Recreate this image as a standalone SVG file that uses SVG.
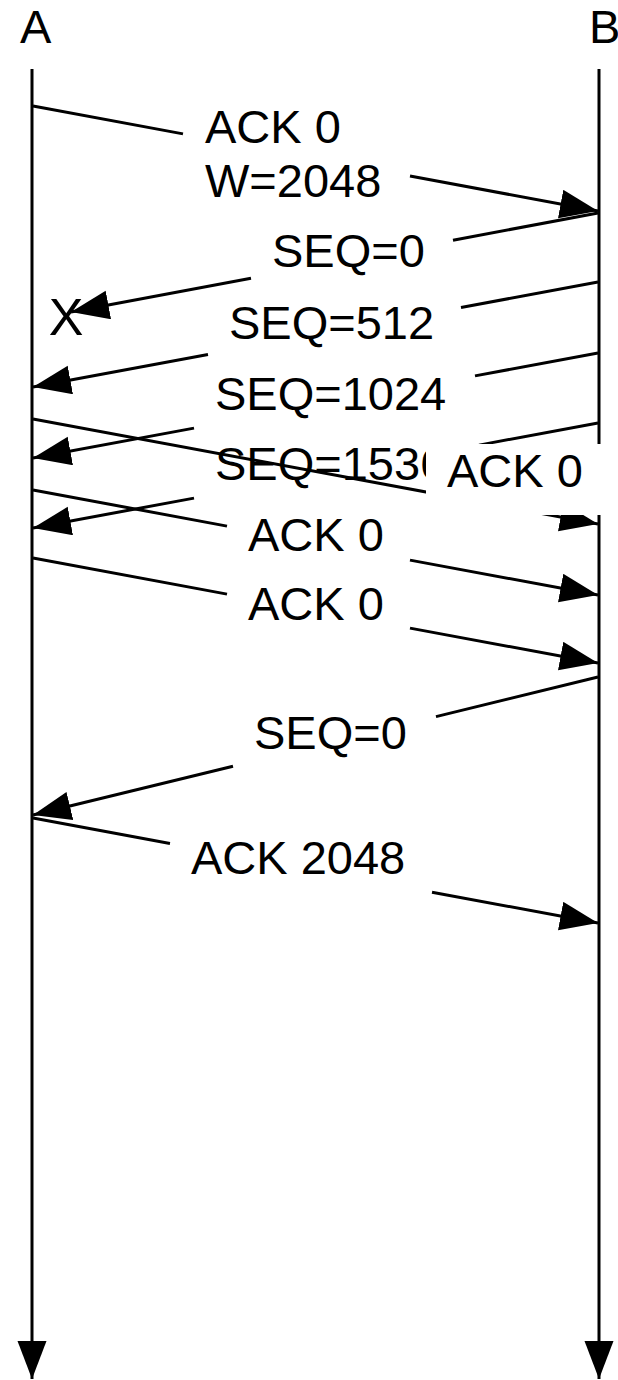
<svg xmlns="http://www.w3.org/2000/svg" width="618" height="1380" viewBox="0 0 618 1380">
<style>
  .ln { stroke: #000; stroke-width: 3; fill: none; }
  .lbl { font-family: "Liberation Sans", Arial, Helvetica, sans-serif; font-size: 47px; fill: #000; }
</style>
<defs>
  <marker id="ah" markerUnits="userSpaceOnUse" markerWidth="40" markerHeight="30" refX="38" refY="14.5" orient="auto">
    <path d="M0,0 L38,14.5 L0,29 Z" fill="#000"/>
  </marker>
</defs>
<rect width="618" height="1380" fill="#fff"/>
<g id="nodeA">
  <text class="lbl" x="20" y="43">A</text>
  <line class="ln" x1="32" y1="69" x2="32" y2="1379" marker-end="url(#ah)"/>
</g>
<g id="nodeB">
  <text class="lbl" x="589" y="43">B</text>
  <line class="ln" x1="599" y1="69" x2="599" y2="1379" marker-end="url(#ah)"/>
</g>
<g id="connectors">
  <path class="ln" d="M33,106 L183,133.9"/>
  <path class="ln" d="M410,176 L598,211" marker-end="url(#ah)"/>
  <path class="ln" d="M598,213 L453,240.2"/>
  <path class="ln" d="M251,278.2 L71,312" marker-end="url(#ah)"/>
  <path class="ln" d="M598,282 L461,307.5"/>
  <path class="ln" d="M208,354.5 L33,387" marker-end="url(#ah)"/>
  <path class="ln" d="M598,353 L475,375.9"/>
  <path class="ln" d="M194,428.1 L33,458" marker-end="url(#ah)"/>
  <path class="ln" d="M598,423 L479,445.1"/>
  <path class="ln" d="M194,498.1 L33,528" marker-end="url(#ah)"/>
  <path class="ln" d="M33,419 L598,524" marker-end="url(#ah)"/>
  <path class="ln" d="M33,490 L227,526.1"/>
  <path class="ln" d="M410,560.1 L598,595" marker-end="url(#ah)"/>
  <path class="ln" d="M33,558 L227,594.1"/>
  <path class="ln" d="M410,628.1 L598,663" marker-end="url(#ah)"/>
  <path class="ln" d="M598,677 L436,716.6"/>
  <path class="ln" d="M233,766.2 L33,815" marker-end="url(#ah)"/>
  <path class="ln" d="M33,818 L170,843.5"/>
  <path class="ln" d="M432,892.2 L598,923" marker-end="url(#ah)"/>
</g>
<g id="labels">
  <text class="lbl" x="205" y="143">ACK 0</text>
  <text class="lbl" x="205" y="197">W=2048</text>
  <text class="lbl" x="272" y="267">SEQ=0</text>
  <text class="lbl" x="66" y="335" text-anchor="middle" style="font-size:52px">X</text>
  <text class="lbl" x="229" y="339">SEQ=512</text>
  <text class="lbl" x="215" y="410">SEQ=1024</text>
  <text class="lbl" x="215" y="480">SEQ=1536</text>
  <g id="ackLabelBox">
    <rect x="426" y="444" width="178" height="71" fill="#fff"/>
    <text class="lbl" x="447" y="487">ACK 0</text>
  </g>
  <text class="lbl" x="248" y="551">ACK 0</text>
  <text class="lbl" x="248" y="620">ACK 0</text>
  <text class="lbl" x="254" y="749">SEQ=0</text>
  <text class="lbl" x="191" y="874">ACK 2048</text>
</g>
</svg>
